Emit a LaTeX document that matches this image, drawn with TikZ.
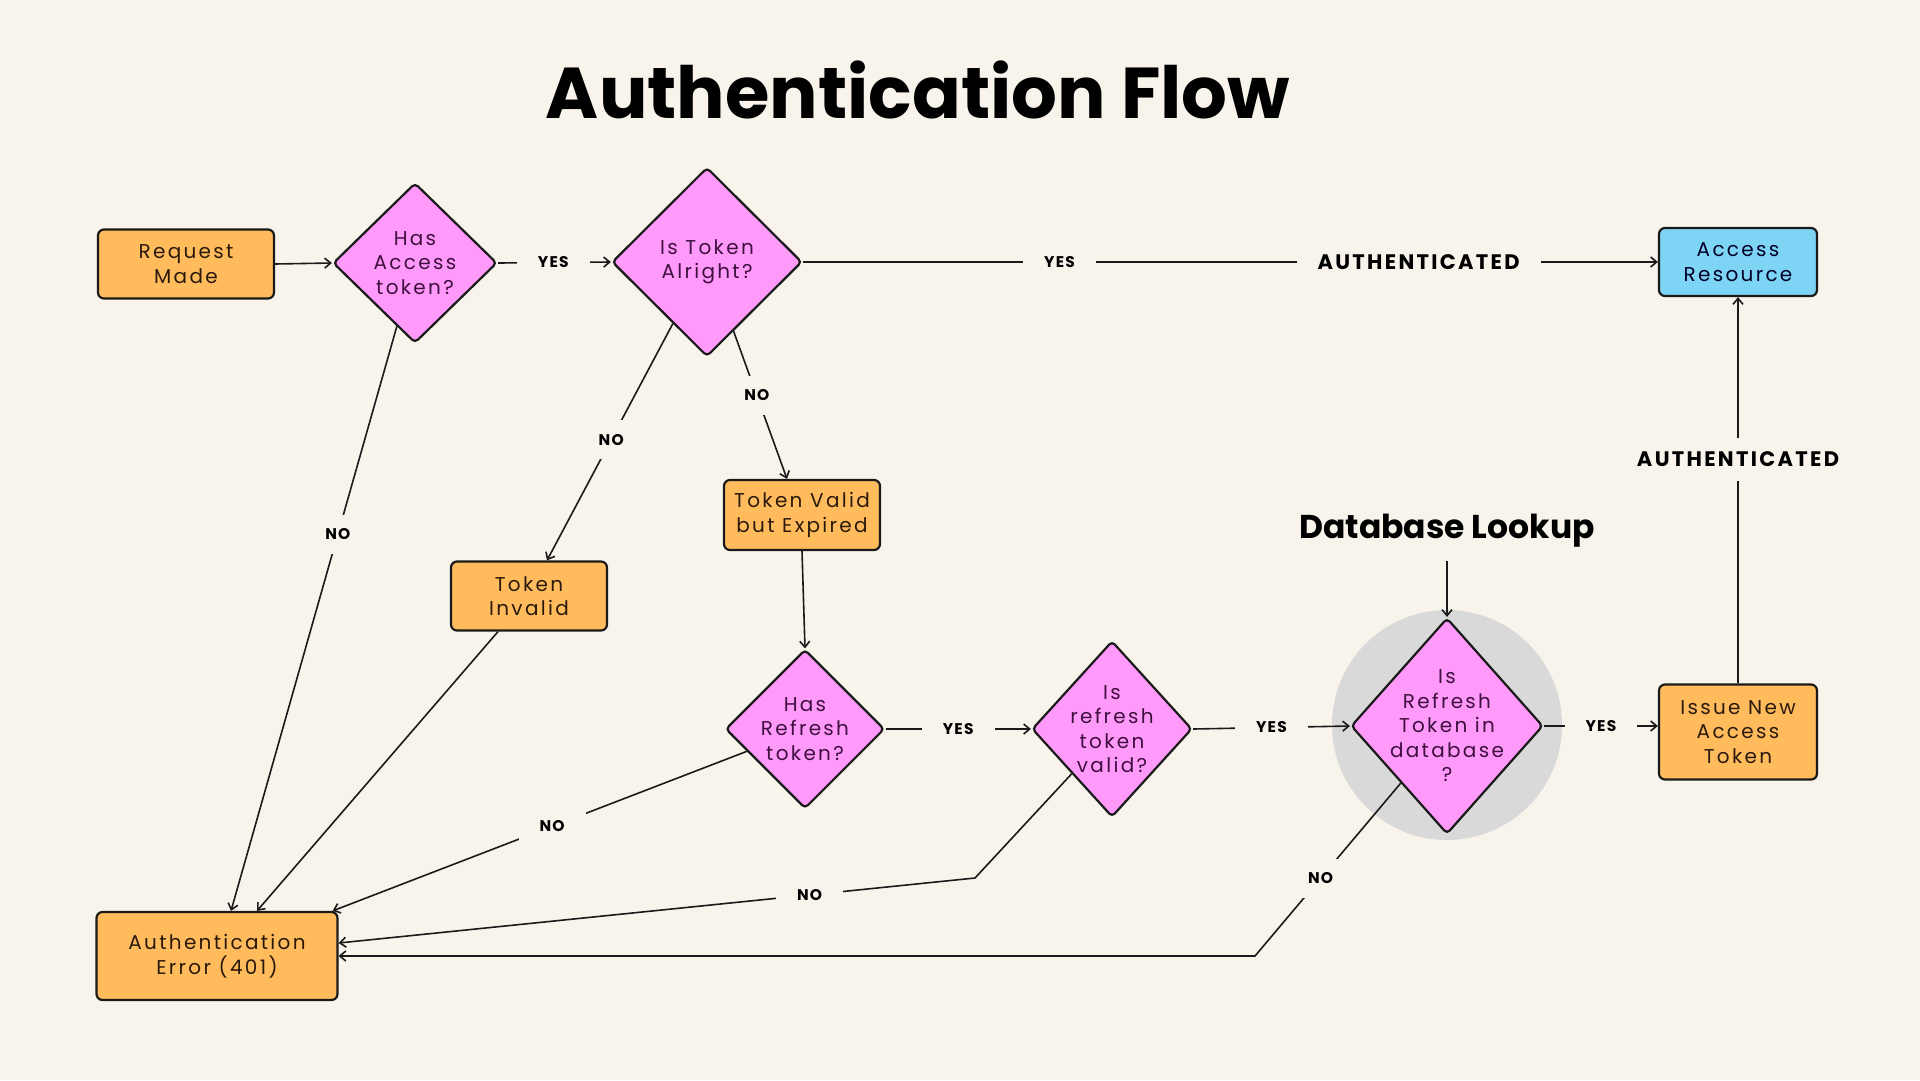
\documentclass[tikz,border=0pt]{standalone}
\usepackage{fontspec}
\setmainfont{Poppins}
\newfontfamily\boxfont{Poppins}[LetterSpace=11.5]
\newfontfamily\lblfont{Poppins}[LetterSpace=8]
\newfontfamily\tagfont{Poppins}[LetterSpace=11]
\usetikzlibrary{shapes.geometric, arrows.meta}
\definecolor{bgcream}{HTML}{F8F4EC}
\definecolor{boxorange}{HTML}{FFBB5C}
\definecolor{decpink}{HTML}{FF99FA}
\definecolor{resblue}{HTML}{7ED4F5}
\definecolor{dbgray}{HTML}{D9D9D9}
\definecolor{inkdark}{HTML}{1A1A1A}
\definecolor{txtbrown}{HTML}{2B1A0C}
\definecolor{txtpurple}{HTML}{3F0F40}
\begin{document}
\begin{tikzpicture}[x=1pt, y=-1pt, >={Straight Barb[length=6pt,width=10pt]},
  box/.style={draw=inkdark, line width=2.2pt, rounded corners=6pt, fill=boxorange, text=txtbrown, align=center, inner sep=0pt, font=\boxfont\fontsize{20}{24.5}\selectfont},
  decision/.style={diamond, draw=inkdark, line width=2.2pt, rounded corners=4pt, fill=decpink, inner sep=0pt},
  dtext/.style={text=txtpurple, align=center, inner sep=0pt, font=\boxfont\fontsize{20}{24.5}\selectfont},
  flow/.style={->, line width=1.6pt, draw=inkdark},
  lbl/.style={fill=bgcream, font=\lblfont\fontsize{15.5}{16}\selectfont\bfseries, inner xsep=21pt, inner ysep=14pt},
  bigtag/.style={fill=bgcream, font=\tagfont\fontsize{21}{22}\selectfont\bfseries, inner xsep=21pt, inner ysep=14pt}]
% Canvas
\fill[bgcream] (0,0) rectangle (1920,1080);
\useasboundingbox (0,0) rectangle (1920,1080);
% Titles
\node (title) at (918,90) {\fontsize{72}{78}\selectfont\bfseries Authentication Flow};
\node (dblabel) at (1447,531) {\fontsize{33}{36}\selectfont\bfseries Database Lookup};
% Gray backdrop for lookup
\node[circle, fill=dbgray, minimum size=230pt, inner sep=0pt] (dbc) at (1447,725) {};
% Nodes
\node[box, minimum width=176pt, minimum height=69pt] (req) at (186,264) {Request\\Made};
\node[decision, minimum width=164pt, minimum height=160pt, label={[dtext]center:Has\\Access\\token?}] (hasacc) at (415,263) {};
\node[decision, minimum width=190pt, minimum height=189pt, label={[dtext]center:Is Token\\Alright?}] (tokok) at (707,262) {};
\node[box, fill=resblue, text=black!85!blue, minimum width=158pt, minimum height=68pt] (res) at (1738,262) {Access\\Resource};
\node[box, minimum width=156pt, minimum height=70pt] (expired) at (802,515) {Token Valid\\but Expired};
\node[box, minimum width=156pt, minimum height=69pt] (invalid) at (529,596) {Token\\Invalid};
\node[decision, minimum width=159pt, minimum height=159pt, label={[dtext]center:Has\\Refresh\\token?}] (hasref) at (805,729) {};
\node[decision, minimum width=160pt, minimum height=176pt, label={[dtext]center:Is\\refresh\\token\\valid?}] (refok) at (1112,729) {};
\node[decision, minimum width=192pt, minimum height=216pt, label={[dtext]center:Is\\Refresh\\Token in\\database\\?}] (indb) at (1447,726) {};
\node[box, minimum width=158pt, minimum height=95pt] (issue) at (1738,732) {Issue New\\Access\\Token};
\node[box, minimum width=241pt, minimum height=88pt] (err) at (217,956) {Authentication\\Error (401)};
\coordinate (bendA) at (975,878);
\coordinate (bendB) at (1255,956);
% Main path
\draw[flow] (req.east) -- (hasacc.west);
\draw[flow] (hasacc.east) -- node[lbl, pos=0.49] (y1) {YES} (tokok.west);
\draw[flow] (tokok.east) -- node[lbl, pos=0.30] (y2) {YES} node[bigtag, pos=0.72] (auth1) {AUTHENTICATED} (res.west);
\draw[flow] (tokok.291.5) -- node[lbl, pos=0.435] (n2) {NO} ([xshift=-15pt]expired.north);
\draw[flow] (expired.south) -- (hasref.north);
\draw[flow] (hasref.east) -- node[lbl, pos=0.5] (y3) {YES} (refok.west);
\draw[flow] (refok.east) -- node[lbl, pos=0.5] (y4) {YES} (indb.west);
\draw[flow, shorten <=10pt] (dblabel.south) -- (indb.north);
\draw[flow] (indb.east) -- node[lbl, pos=0.5] (y5) {YES} (indb.east -| issue.west);
\draw[flow] (issue.north) -- node[bigtag, pos=0.58] (auth2) {AUTHENTICATED} (res.south);
% Failure paths
\draw[flow] (hasacc.254) -- node[lbl, pos=0.356] (n1) {NO} ([xshift=14pt]err.north);
\draw[flow] (tokok.241) -- node[lbl, pos=0.49] (n3) {NO} ([xshift=18pt]invalid.north);
\draw[flow] ([xshift=-31pt]invalid.south) -- ([xshift=40pt]err.north);
\draw[flow] (hasref.201) -- node[lbl, pos=0.47] (n4) {NO} ([xshift=-6pt]err.north east);
\draw[flow] (refok.228) -- (bendA) -- node[lbl, pos=0.26] (n5) {NO} ([yshift=13pt]err.east);
\draw[flow] (indb.231) -- node[lbl, pos=0.55] (n6) {NO} (bendB) -- (err.east);
\end{tikzpicture}
\end{document}
